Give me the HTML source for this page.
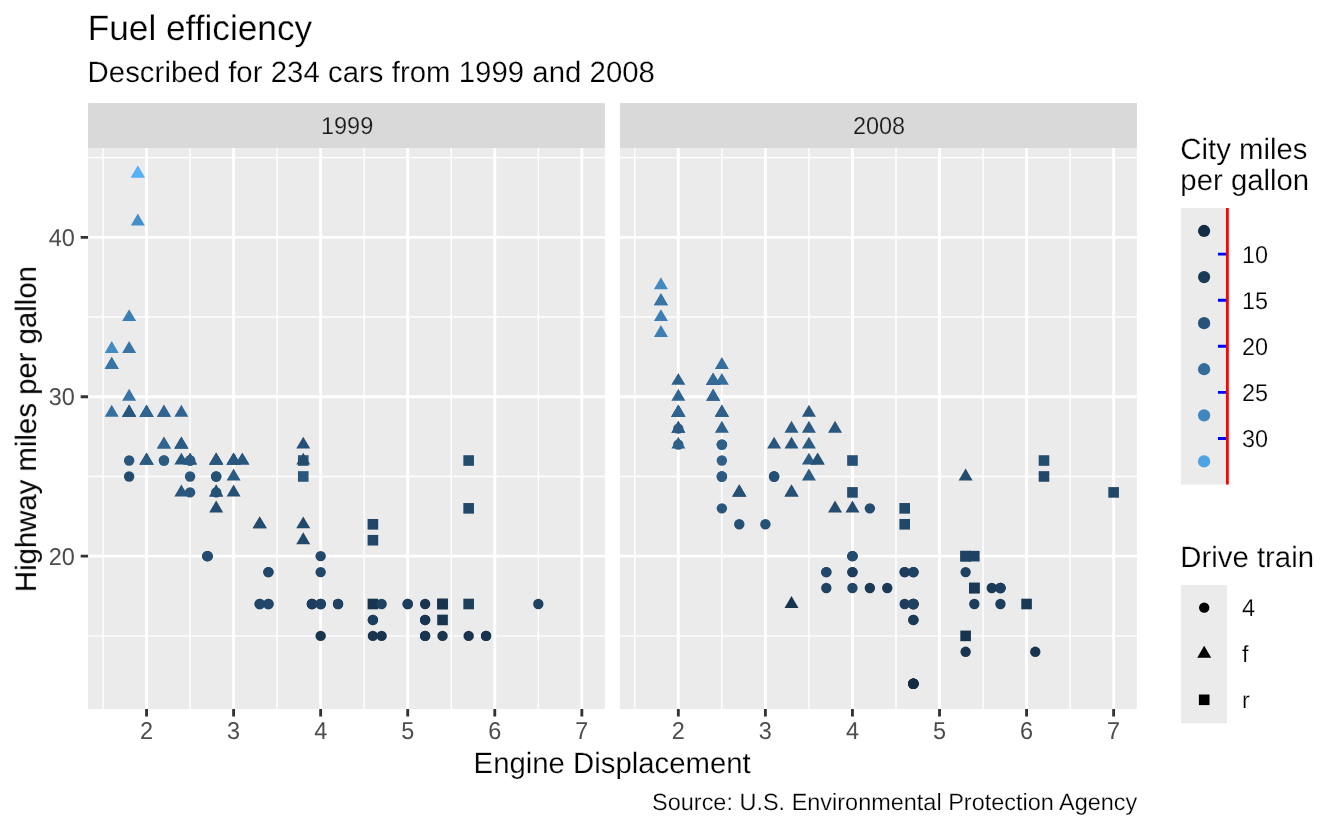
<!DOCTYPE html>
<html lang="en"><head><meta charset="utf-8"><title>Fuel efficiency</title>
<style>html,body{margin:0;padding:0;background:#fff}svg{display:block;text-rendering:geometricPrecision;font-family:"Liberation Sans",sans-serif}text{stroke:#fff;stroke-width:.22px;paint-order:fill stroke}text.s{stroke:#D9D9D9}text.n{stroke:none}</style></head>
<body>
<svg width="1344" height="830" viewBox="0 0 1344 830" >
<rect width="1344" height="830" fill="#fff"/>
<g opacity="0.999">
<text x="87.8" y="40" font-size="35.2" fill="#000">Fuel efficiency</text>
<text x="87.6" y="82" font-size="29.33" fill="#000" letter-spacing="0.04">Described for 234 cars from 1999 and 2008</text>
<rect x="88.08" y="103.1" width="516.79" height="44.98" fill="#D9D9D9"/>
<rect x="88.08" y="148.08" width="516.79" height="560.92" fill="#EBEBEB"/>
<text transform="translate(347.08 134.00) scale(1 1.04)" font-size="23.47" fill="#1A1A1A" text-anchor="middle" class="s">1999</text>
<path d="M88.08 635.88H604.87M88.08 476.46H604.87M88.08 317.04H604.87M88.08 157.62H604.87M103.01 148.08V709.0M190.07 148.08V709.0M277.13 148.08V709.0M364.19 148.08V709.0M451.25 148.08V709.0M538.31 148.08V709.0" stroke="#fff" stroke-width="1.42" fill="none"/>
<path d="M88.08 556.17H604.87M88.08 396.75H604.87M88.08 237.33H604.87M146.54 148.08V709.0M233.60 148.08V709.0M320.66 148.08V709.0M407.72 148.08V709.0M494.78 148.08V709.0M581.84 148.08V709.0" stroke="#fff" stroke-width="2.85" fill="none"/>
<path d="M129.13 404.81L136.13 416.74L122.12 416.74Z" fill="#29567D"/>
<path d="M129.13 404.81L136.13 416.74L122.12 416.74Z" fill="#306591"/>
<path d="M216.19 452.63L223.19 464.56L209.18 464.56Z" fill="#244C6F"/>
<path d="M216.19 452.63L223.19 464.56L209.18 464.56Z" fill="#29567D"/>
<circle cx="129.13" cy="460.52" r="5.20" fill="#29567D"/>
<circle cx="129.13" cy="476.46" r="5.20" fill="#244C6F"/>
<circle cx="216.19" cy="476.46" r="5.20" fill="#214769"/>
<circle cx="216.19" cy="476.46" r="5.20" fill="#265176"/>
<circle cx="216.19" cy="492.40" r="5.20" fill="#214769"/>
<rect x="463.36" y="598.70" width="10.60" height="10.60" fill="#1C3D5C"/>
<rect x="463.36" y="455.22" width="10.60" height="10.60" fill="#244C6F"/>
<rect x="463.36" y="503.04" width="10.60" height="10.60" fill="#214769"/>
<circle cx="468.66" cy="635.88" r="5.20" fill="#18344F"/>
<circle cx="538.31" cy="604.00" r="5.20" fill="#1F4262"/>
<path d="M181.36 436.69L188.37 448.62L174.36 448.62Z" fill="#2B5B83"/>
<path d="M242.31 452.63L249.31 464.56L235.30 464.56Z" fill="#29567D"/>
<path d="M181.36 484.52L188.37 496.45L174.36 496.45Z" fill="#29567D"/>
<path d="M233.60 484.52L240.60 496.45L226.60 496.45Z" fill="#265176"/>
<path d="M259.72 516.40L266.72 528.33L252.71 528.33Z" fill="#244C6F"/>
<path d="M259.72 516.40L266.72 528.33L252.71 528.33Z" fill="#244C6F"/>
<path d="M303.25 516.40L310.25 528.33L296.24 528.33Z" fill="#214769"/>
<path d="M303.25 532.34L310.25 544.27L296.24 544.27Z" fill="#214769"/>
<circle cx="311.95" cy="604.00" r="5.20" fill="#1C3D5C"/>
<circle cx="311.95" cy="604.00" r="5.20" fill="#1F4262"/>
<circle cx="425.13" cy="604.00" r="5.20" fill="#18344F"/>
<circle cx="425.13" cy="635.88" r="5.20" fill="#18344F"/>
<circle cx="311.95" cy="604.00" r="5.20" fill="#1C3D5C"/>
<circle cx="425.13" cy="619.94" r="5.20" fill="#18344F"/>
<circle cx="486.07" cy="635.88" r="5.20" fill="#18344F"/>
<circle cx="425.13" cy="635.88" r="5.20" fill="#18344F"/>
<circle cx="425.13" cy="619.94" r="5.20" fill="#18344F"/>
<circle cx="486.07" cy="635.88" r="5.20" fill="#18344F"/>
<rect x="367.60" y="598.70" width="10.60" height="10.60" fill="#18344F"/>
<rect x="437.24" y="598.70" width="10.60" height="10.60" fill="#18344F"/>
<circle cx="320.66" cy="604.00" r="5.20" fill="#1F4262"/>
<circle cx="320.66" cy="572.11" r="5.20" fill="#214769"/>
<circle cx="320.66" cy="604.00" r="5.20" fill="#1F4262"/>
<circle cx="407.72" cy="604.00" r="5.20" fill="#1C3D5C"/>
<circle cx="338.07" cy="604.00" r="5.20" fill="#1F4262"/>
<circle cx="338.07" cy="604.00" r="5.20" fill="#1F4262"/>
<circle cx="372.90" cy="619.94" r="5.20" fill="#1C3D5C"/>
<circle cx="372.90" cy="619.94" r="5.20" fill="#1C3D5C"/>
<circle cx="442.54" cy="635.88" r="5.20" fill="#18344F"/>
<rect x="297.95" y="455.22" width="10.60" height="10.60" fill="#29567D"/>
<rect x="297.95" y="471.16" width="10.60" height="10.60" fill="#29567D"/>
<rect x="367.60" y="534.93" width="10.60" height="10.60" fill="#214769"/>
<rect x="367.60" y="518.99" width="10.60" height="10.60" fill="#214769"/>
<path d="M111.72 341.04L118.72 352.97L104.71 352.97Z" fill="#438AC3"/>
<path d="M111.72 356.98L118.72 368.91L104.71 368.91Z" fill="#3875A6"/>
<path d="M111.72 356.98L118.72 368.91L104.71 368.91Z" fill="#3B7AAD"/>
<path d="M111.72 404.81L118.72 416.74L104.71 416.74Z" fill="#356F9F"/>
<path d="M111.72 356.98L118.72 368.91L104.71 368.91Z" fill="#3875A6"/>
<path d="M181.36 452.63L188.37 464.56L174.36 464.56Z" fill="#29567D"/>
<path d="M181.36 436.69L188.37 448.62L174.36 448.62Z" fill="#29567D"/>
<path d="M190.07 452.63L197.07 464.56L183.07 464.56Z" fill="#29567D"/>
<path d="M190.07 452.63L197.07 464.56L183.07 464.56Z" fill="#29567D"/>
<path d="M146.54 452.63L153.54 464.56L139.54 464.56Z" fill="#2B5B83"/>
<path d="M146.54 404.81L153.54 416.74L139.54 416.74Z" fill="#2B5B83"/>
<circle cx="320.66" cy="556.17" r="5.20" fill="#214769"/>
<circle cx="381.60" cy="604.00" r="5.20" fill="#1F4262"/>
<circle cx="320.66" cy="635.88" r="5.20" fill="#18344F"/>
<circle cx="372.90" cy="635.88" r="5.20" fill="#18344F"/>
<rect x="437.24" y="598.70" width="10.60" height="10.60" fill="#18344F"/>
<rect x="437.24" y="614.64" width="10.60" height="10.60" fill="#18344F"/>
<circle cx="320.66" cy="604.00" r="5.20" fill="#1F4262"/>
<circle cx="407.72" cy="604.00" r="5.20" fill="#1C3D5C"/>
<path d="M181.36 404.81L188.37 416.74L174.36 416.74Z" fill="#306591"/>
<path d="M181.36 436.69L188.37 448.62L174.36 448.62Z" fill="#2B5B83"/>
<path d="M233.60 452.63L240.60 464.56L226.60 464.56Z" fill="#29567D"/>
<path d="M233.60 468.57L240.60 480.50L226.60 480.50Z" fill="#2B5B83"/>
<circle cx="259.72" cy="604.00" r="5.20" fill="#1F4262"/>
<circle cx="259.72" cy="604.00" r="5.20" fill="#214769"/>
<path d="M242.31 452.63L249.31 464.56L235.30 464.56Z" fill="#29567D"/>
<path d="M303.25 452.63L310.25 464.56L296.24 464.56Z" fill="#244C6F"/>
<path d="M303.25 436.69L310.25 448.62L296.24 448.62Z" fill="#265176"/>
<circle cx="190.07" cy="476.46" r="5.20" fill="#29567D"/>
<circle cx="190.07" cy="492.40" r="5.20" fill="#29567D"/>
<circle cx="163.95" cy="460.52" r="5.20" fill="#306591"/>
<circle cx="163.95" cy="460.52" r="5.20" fill="#2B5B83"/>
<circle cx="190.07" cy="460.52" r="5.20" fill="#2B5B83"/>
<circle cx="190.07" cy="460.52" r="5.20" fill="#2B5B83"/>
<circle cx="207.48" cy="556.17" r="5.20" fill="#214769"/>
<circle cx="207.48" cy="556.17" r="5.20" fill="#244C6F"/>
<circle cx="268.42" cy="572.11" r="5.20" fill="#214769"/>
<circle cx="268.42" cy="604.00" r="5.20" fill="#214769"/>
<path d="M163.95 404.81L170.96 416.74L156.95 416.74Z" fill="#306591"/>
<path d="M163.95 436.69L170.96 448.62L156.95 448.62Z" fill="#306591"/>
<path d="M233.60 452.63L240.60 464.56L226.60 464.56Z" fill="#29567D"/>
<path d="M233.60 452.63L240.60 464.56L226.60 464.56Z" fill="#29567D"/>
<path d="M163.95 436.69L170.96 448.62L156.95 448.62Z" fill="#306591"/>
<path d="M163.95 404.81L170.96 416.74L156.95 416.74Z" fill="#306591"/>
<path d="M233.60 452.63L240.60 464.56L226.60 464.56Z" fill="#29567D"/>
<path d="M233.60 452.63L240.60 464.56L226.60 464.56Z" fill="#29567D"/>
<path d="M129.13 388.86L136.13 400.79L122.12 400.79Z" fill="#3875A6"/>
<path d="M129.13 341.04L136.13 352.97L122.12 352.97Z" fill="#3875A6"/>
<path d="M129.13 309.15L136.13 321.08L122.12 321.08Z" fill="#3D7FB4"/>
<circle cx="381.60" cy="635.88" r="5.20" fill="#18344F"/>
<circle cx="207.48" cy="556.17" r="5.20" fill="#214769"/>
<circle cx="207.48" cy="556.17" r="5.20" fill="#244C6F"/>
<circle cx="268.42" cy="604.00" r="5.20" fill="#214769"/>
<circle cx="268.42" cy="572.11" r="5.20" fill="#214769"/>
<path d="M146.54 404.81L153.54 416.74L139.54 416.74Z" fill="#306591"/>
<path d="M146.54 452.63L153.54 464.56L139.54 464.56Z" fill="#2B5B83"/>
<path d="M216.19 484.52L223.19 496.45L209.18 496.45Z" fill="#265176"/>
<path d="M137.83 165.68L144.84 177.61L130.83 177.61Z" fill="#50A6E8"/>
<path d="M146.54 404.81L153.54 416.74L139.54 416.74Z" fill="#306591"/>
<path d="M146.54 452.63L153.54 464.56L139.54 464.56Z" fill="#2B5B83"/>
<path d="M216.19 500.46L223.19 512.39L209.18 512.39Z" fill="#244C6F"/>
<path d="M216.19 484.52L223.19 496.45L209.18 496.45Z" fill="#265176"/>
<path d="M137.83 165.68L144.84 177.61L130.83 177.61Z" fill="#56B1F7"/>
<path d="M137.83 213.50L144.84 225.43L130.83 225.43Z" fill="#458FCA"/>
<path d="M146.54 404.81L153.54 416.74L139.54 416.74Z" fill="#306591"/>
<path d="M146.54 452.63L153.54 464.56L139.54 464.56Z" fill="#2B5B83"/>
<path d="M129.13 404.81L136.13 416.74L122.12 416.74Z" fill="#306591"/>
<path d="M129.13 404.81L136.13 416.74L122.12 416.74Z" fill="#29567D"/>
<path d="M216.19 452.63L223.19 464.56L209.18 464.56Z" fill="#244C6F"/>
<path d="M216.19 452.63L223.19 464.56L209.18 464.56Z" fill="#29567D"/>
<text transform="translate(146.54 739.00) scale(1 1.04)" font-size="23.47" fill="#4D4D4D" text-anchor="middle" class="n">2</text>
<text transform="translate(233.60 739.00) scale(1 1.04)" font-size="23.47" fill="#4D4D4D" text-anchor="middle" class="n">3</text>
<text transform="translate(320.66 739.00) scale(1 1.04)" font-size="23.47" fill="#4D4D4D" text-anchor="middle" class="n">4</text>
<text transform="translate(407.72 739.00) scale(1 1.04)" font-size="23.47" fill="#4D4D4D" text-anchor="middle" class="n">5</text>
<text transform="translate(494.78 739.00) scale(1 1.04)" font-size="23.47" fill="#4D4D4D" text-anchor="middle" class="n">6</text>
<text transform="translate(581.84 739.00) scale(1 1.04)" font-size="23.47" fill="#4D4D4D" text-anchor="middle" class="n">7</text>
<path d="M146.54 709.0v7.6M233.60 709.0v7.6M320.66 709.0v7.6M407.72 709.0v7.6M494.78 709.0v7.6M581.84 709.0v7.6" stroke="#333" stroke-width="2.85" fill="none"/>
<rect x="620.04" y="103.1" width="516.86" height="44.98" fill="#D9D9D9"/>
<rect x="620.04" y="148.08" width="516.86" height="560.92" fill="#EBEBEB"/>
<text transform="translate(879.07 134.00) scale(1 1.04)" font-size="23.47" fill="#1A1A1A" text-anchor="middle" class="s">2008</text>
<path d="M620.04 635.88H1136.90M620.04 476.46H1136.90M620.04 317.04H1136.90M620.04 157.62H1136.90M634.80 148.08V709.0M721.86 148.08V709.0M808.92 148.08V709.0M895.98 148.08V709.0M983.04 148.08V709.0M1070.10 148.08V709.0" stroke="#fff" stroke-width="1.42" fill="none"/>
<path d="M620.04 556.17H1136.90M620.04 396.75H1136.90M620.04 237.33H1136.90M678.33 148.08V709.0M765.39 148.08V709.0M852.45 148.08V709.0M939.51 148.08V709.0M1026.57 148.08V709.0M1113.63 148.08V709.0" stroke="#fff" stroke-width="2.85" fill="none"/>
<path d="M678.33 372.92L685.33 384.85L671.33 384.85Z" fill="#2E608A"/>
<path d="M678.33 388.86L685.33 400.79L671.33 400.79Z" fill="#306591"/>
<path d="M774.10 436.69L781.10 448.62L767.09 448.62Z" fill="#29567D"/>
<circle cx="678.33" cy="428.63" r="5.20" fill="#2E608A"/>
<circle cx="678.33" cy="444.58" r="5.20" fill="#2B5B83"/>
<circle cx="774.10" cy="476.46" r="5.20" fill="#265176"/>
<circle cx="774.10" cy="476.46" r="5.20" fill="#214769"/>
<circle cx="774.10" cy="476.46" r="5.20" fill="#265176"/>
<circle cx="869.86" cy="508.34" r="5.20" fill="#244C6F"/>
<rect x="960.33" y="550.87" width="10.60" height="10.60" fill="#1F4262"/>
<rect x="960.33" y="630.58" width="10.60" height="10.60" fill="#18344F"/>
<rect x="960.33" y="550.87" width="10.60" height="10.60" fill="#1F4262"/>
<rect x="1021.27" y="598.70" width="10.60" height="10.60" fill="#1A3955"/>
<rect x="1038.68" y="455.22" width="10.60" height="10.60" fill="#244C6F"/>
<rect x="1038.68" y="471.16" width="10.60" height="10.60" fill="#214769"/>
<rect x="1108.33" y="487.10" width="10.60" height="10.60" fill="#214769"/>
<circle cx="965.63" cy="572.11" r="5.20" fill="#1F4262"/>
<circle cx="965.63" cy="651.82" r="5.20" fill="#18344F"/>
<path d="M713.15 388.86L720.16 400.79L706.15 400.79Z" fill="#336A98"/>
<path d="M808.92 404.81L815.92 416.74L801.92 416.74Z" fill="#29567D"/>
<path d="M817.63 452.63L824.63 464.56L810.62 464.56Z" fill="#265176"/>
<path d="M791.51 484.52L798.51 496.45L784.50 496.45Z" fill="#265176"/>
<path d="M791.51 484.52L798.51 496.45L784.50 496.45Z" fill="#265176"/>
<path d="M791.51 596.11L798.51 608.04L784.50 608.04Z" fill="#18344F"/>
<path d="M835.04 500.46L842.04 512.39L828.03 512.39Z" fill="#244C6F"/>
<path d="M852.45 500.46L859.45 512.39L845.45 512.39Z" fill="#244C6F"/>
<circle cx="826.33" cy="572.11" r="5.20" fill="#214769"/>
<circle cx="826.33" cy="588.05" r="5.20" fill="#1F4262"/>
<circle cx="913.39" cy="572.11" r="5.20" fill="#1F4262"/>
<circle cx="913.39" cy="572.11" r="5.20" fill="#1F4262"/>
<circle cx="913.39" cy="683.71" r="5.20" fill="#132B43"/>
<circle cx="913.39" cy="604.00" r="5.20" fill="#1C3D5C"/>
<circle cx="913.39" cy="683.71" r="5.20" fill="#132B43"/>
<circle cx="913.39" cy="604.00" r="5.20" fill="#1C3D5C"/>
<circle cx="1000.45" cy="588.05" r="5.20" fill="#1C3D5C"/>
<circle cx="913.39" cy="619.94" r="5.20" fill="#1A3955"/>
<circle cx="913.39" cy="683.71" r="5.20" fill="#132B43"/>
<circle cx="913.39" cy="604.00" r="5.20" fill="#1C3D5C"/>
<circle cx="913.39" cy="604.00" r="5.20" fill="#1C3D5C"/>
<circle cx="913.39" cy="619.94" r="5.20" fill="#1A3955"/>
<circle cx="913.39" cy="683.71" r="5.20" fill="#132B43"/>
<circle cx="1000.45" cy="604.00" r="5.20" fill="#1C3D5C"/>
<rect x="969.03" y="582.75" width="10.60" height="10.60" fill="#1A3955"/>
<circle cx="852.45" cy="572.11" r="5.20" fill="#1C3D5C"/>
<circle cx="904.69" cy="572.11" r="5.20" fill="#1C3D5C"/>
<circle cx="904.69" cy="604.00" r="5.20" fill="#1C3D5C"/>
<circle cx="974.33" cy="604.00" r="5.20" fill="#1C3D5C"/>
<rect x="847.15" y="455.22" width="10.60" height="10.60" fill="#265176"/>
<rect x="847.15" y="487.10" width="10.60" height="10.60" fill="#244C6F"/>
<rect x="899.39" y="503.04" width="10.60" height="10.60" fill="#214769"/>
<rect x="899.39" y="518.99" width="10.60" height="10.60" fill="#214769"/>
<rect x="969.03" y="550.87" width="10.60" height="10.60" fill="#1F4262"/>
<path d="M660.92 325.10L667.92 337.03L653.91 337.03Z" fill="#3D7FB4"/>
<path d="M660.92 293.21L667.92 305.14L653.91 305.14Z" fill="#3B7AAD"/>
<path d="M660.92 293.21L667.92 305.14L653.91 305.14Z" fill="#3875A6"/>
<path d="M678.33 404.81L685.33 416.74L671.33 416.74Z" fill="#306591"/>
<path d="M713.15 388.86L720.16 400.79L706.15 400.79Z" fill="#306591"/>
<path d="M713.15 372.92L720.16 384.85L706.15 384.85Z" fill="#306591"/>
<path d="M791.51 420.75L798.51 432.68L784.50 432.68Z" fill="#2B5B83"/>
<path d="M678.33 420.75L685.33 432.68L671.33 432.68Z" fill="#2E608A"/>
<path d="M678.33 436.69L685.33 448.62L671.33 448.62Z" fill="#2E608A"/>
<path d="M739.27 484.52L746.28 496.45L732.27 496.45Z" fill="#265176"/>
<path d="M739.27 484.52L746.28 496.45L732.27 496.45Z" fill="#244C6F"/>
<path d="M739.27 484.52L746.28 496.45L732.27 496.45Z" fill="#265176"/>
<circle cx="765.39" cy="524.29" r="5.20" fill="#265176"/>
<circle cx="826.33" cy="572.11" r="5.20" fill="#214769"/>
<circle cx="913.39" cy="683.71" r="5.20" fill="#132B43"/>
<circle cx="913.39" cy="572.11" r="5.20" fill="#1F4262"/>
<circle cx="1000.45" cy="588.05" r="5.20" fill="#1C3D5C"/>
<circle cx="1035.28" cy="651.82" r="5.20" fill="#18344F"/>
<circle cx="869.86" cy="588.05" r="5.20" fill="#1A3955"/>
<circle cx="887.27" cy="588.05" r="5.20" fill="#1A3955"/>
<rect x="969.03" y="582.75" width="10.60" height="10.60" fill="#1A3955"/>
<circle cx="852.45" cy="572.11" r="5.20" fill="#1C3D5C"/>
<circle cx="904.69" cy="572.11" r="5.20" fill="#1C3D5C"/>
<path d="M721.86 372.92L728.86 384.85L714.86 384.85Z" fill="#356F9F"/>
<path d="M721.86 356.98L728.86 368.91L714.86 368.91Z" fill="#356F9F"/>
<path d="M808.92 436.69L815.92 448.62L801.92 448.62Z" fill="#2B5B83"/>
<path d="M808.92 452.63L815.92 464.56L801.92 464.56Z" fill="#2B5B83"/>
<path d="M808.92 468.57L815.92 480.50L801.92 480.50Z" fill="#2B5B83"/>
<circle cx="852.45" cy="556.17" r="5.20" fill="#1F4262"/>
<circle cx="991.75" cy="588.05" r="5.20" fill="#1A3955"/>
<path d="M835.04 420.75L842.04 432.68L828.03 432.68Z" fill="#29567D"/>
<path d="M965.63 468.57L972.63 480.50L958.62 480.50Z" fill="#244C6F"/>
<circle cx="721.86" cy="444.58" r="5.20" fill="#2E608A"/>
<circle cx="721.86" cy="476.46" r="5.20" fill="#2B5B83"/>
<circle cx="721.86" cy="460.52" r="5.20" fill="#2E608A"/>
<circle cx="721.86" cy="508.34" r="5.20" fill="#29567D"/>
<circle cx="721.86" cy="476.46" r="5.20" fill="#2E608A"/>
<circle cx="721.86" cy="444.58" r="5.20" fill="#2E608A"/>
<circle cx="721.86" cy="476.46" r="5.20" fill="#2B5B83"/>
<circle cx="721.86" cy="444.58" r="5.20" fill="#2E608A"/>
<circle cx="852.45" cy="556.17" r="5.20" fill="#244C6F"/>
<circle cx="913.39" cy="604.00" r="5.20" fill="#1F4262"/>
<path d="M713.15 372.92L720.16 384.85L706.15 384.85Z" fill="#306591"/>
<path d="M713.15 372.92L720.16 384.85L706.15 384.85Z" fill="#306591"/>
<path d="M808.92 420.75L815.92 432.68L801.92 432.68Z" fill="#2B5B83"/>
<path d="M713.15 372.92L720.16 384.85L706.15 384.85Z" fill="#306591"/>
<path d="M713.15 372.92L720.16 384.85L706.15 384.85Z" fill="#336A98"/>
<path d="M791.51 436.69L798.51 448.62L784.50 448.62Z" fill="#29567D"/>
<path d="M660.92 277.27L667.92 289.20L653.91 289.20Z" fill="#438AC3"/>
<path d="M660.92 309.15L667.92 321.08L653.91 321.08Z" fill="#3D7FB4"/>
<circle cx="1000.45" cy="588.05" r="5.20" fill="#1C3D5C"/>
<circle cx="739.27" cy="524.29" r="5.20" fill="#265176"/>
<circle cx="852.45" cy="588.05" r="5.20" fill="#214769"/>
<circle cx="852.45" cy="556.17" r="5.20" fill="#244C6F"/>
<path d="M678.33 404.81L685.33 416.74L671.33 416.74Z" fill="#306591"/>
<path d="M678.33 404.81L685.33 416.74L671.33 416.74Z" fill="#336A98"/>
<path d="M678.33 404.81L685.33 416.74L671.33 416.74Z" fill="#336A98"/>
<path d="M678.33 404.81L685.33 416.74L671.33 416.74Z" fill="#306591"/>
<path d="M721.86 404.81L728.86 416.74L714.86 416.74Z" fill="#306591"/>
<path d="M721.86 404.81L728.86 416.74L714.86 416.74Z" fill="#306591"/>
<path d="M721.86 420.75L728.86 432.68L714.86 432.68Z" fill="#2E608A"/>
<path d="M721.86 404.81L728.86 416.74L714.86 416.74Z" fill="#2E608A"/>
<path d="M678.33 420.75L685.33 432.68L671.33 432.68Z" fill="#2B5B83"/>
<path d="M678.33 404.81L685.33 416.74L671.33 416.74Z" fill="#306591"/>
<path d="M817.63 452.63L824.63 464.56L810.62 464.56Z" fill="#265176"/>
<text transform="translate(678.33 739.00) scale(1 1.04)" font-size="23.47" fill="#4D4D4D" text-anchor="middle" class="n">2</text>
<text transform="translate(765.39 739.00) scale(1 1.04)" font-size="23.47" fill="#4D4D4D" text-anchor="middle" class="n">3</text>
<text transform="translate(852.45 739.00) scale(1 1.04)" font-size="23.47" fill="#4D4D4D" text-anchor="middle" class="n">4</text>
<text transform="translate(939.51 739.00) scale(1 1.04)" font-size="23.47" fill="#4D4D4D" text-anchor="middle" class="n">5</text>
<text transform="translate(1026.57 739.00) scale(1 1.04)" font-size="23.47" fill="#4D4D4D" text-anchor="middle" class="n">6</text>
<text transform="translate(1113.63 739.00) scale(1 1.04)" font-size="23.47" fill="#4D4D4D" text-anchor="middle" class="n">7</text>
<path d="M678.33 709.0v7.6M765.39 709.0v7.6M852.45 709.0v7.6M939.51 709.0v7.6M1026.57 709.0v7.6M1113.63 709.0v7.6" stroke="#333" stroke-width="2.85" fill="none"/>
<text transform="translate(74.90 565.00) scale(1 1.04)" font-size="23.47" fill="#4D4D4D" text-anchor="end" class="n">20</text>
<text transform="translate(74.90 405.00) scale(1 1.04)" font-size="23.47" fill="#4D4D4D" text-anchor="end" class="n">30</text>
<text transform="translate(74.90 246.00) scale(1 1.04)" font-size="23.47" fill="#4D4D4D" text-anchor="end" class="n">40</text>
<path d="M80.68 556.17h7.4M80.68 396.75h7.4M80.68 237.33h7.4" stroke="#333" stroke-width="2.85" fill="none"/>
<text x="612.19" y="773" font-size="29.33" fill="#000" text-anchor="middle">Engine Displacement</text>
<text transform="translate(35.9 429.14) rotate(-90)" font-size="29.33" fill="#000" text-anchor="middle" class="n">Highway miles per gallon</text>
<text x="1137.35" y="810" font-size="23.47" fill="#000" text-anchor="end">Source: U.S. Environmental Protection Agency</text>
<text x="1180.35" y="159" font-size="29.33" fill="#000">City miles</text>
<text x="1180.35" y="190" font-size="29.33" fill="#000">per gallon</text>
<rect x="1180.95" y="208.0" width="46.08" height="276.48" fill="#EBEBEB"/>
<circle cx="1204.09" cy="230.99" r="6.12" fill="#142D46"/>
<circle cx="1204.09" cy="277.07" r="6.12" fill="#1B3B59"/>
<circle cx="1204.09" cy="323.15" r="6.12" fill="#275379"/>
<circle cx="1204.09" cy="369.23" r="6.12" fill="#346D9B"/>
<circle cx="1204.09" cy="415.31" r="6.12" fill="#4187BF"/>
<circle cx="1204.09" cy="461.39" r="6.12" fill="#4FA3E4"/>
<text transform="translate(1241.90 263.00) scale(1 1.04)" font-size="23.47" fill="#000">10</text>
<text transform="translate(1241.90 309.00) scale(1 1.04)" font-size="23.47" fill="#000">15</text>
<text transform="translate(1241.90 355.00) scale(1 1.04)" font-size="23.47" fill="#000">20</text>
<text transform="translate(1241.90 401.00) scale(1 1.04)" font-size="23.47" fill="#000">25</text>
<text transform="translate(1241.90 447.00) scale(1 1.04)" font-size="23.47" fill="#000">30</text>
<path d="M1217.93 254.13h9.4M1217.93 300.21h9.4M1217.93 346.29h9.4M1217.93 392.37h9.4M1217.93 438.45h9.4" stroke="#0000FF" stroke-width="2.85" fill="none"/>
<path d="M1227.38 208.0V484.53" stroke="#FF0000" stroke-width="2.85" fill="none"/>
<text x="1180.35" y="567" font-size="29.33" fill="#000">Drive train</text>
<rect x="1180.95" y="585.0" width="46.08" height="138.24" fill="#EBEBEB"/>
<circle cx="1204.19" cy="607.64" r="5.20" fill="#000"/>
<text transform="translate(1242.00 616.00) scale(1 1.04)" font-size="23.47" fill="#000">4</text>
<path d="M1204.19 645.83L1211.19 657.76L1197.19 657.76Z" fill="#000"/>
<text x="1242.0" y="662" font-size="23.47" fill="#000">f</text>
<rect x="1198.89" y="694.50" width="10.60" height="10.60" fill="#000"/>
<text x="1242.0" y="708" font-size="23.47" fill="#000">r</text>
</g>
</svg>
</body></html>
